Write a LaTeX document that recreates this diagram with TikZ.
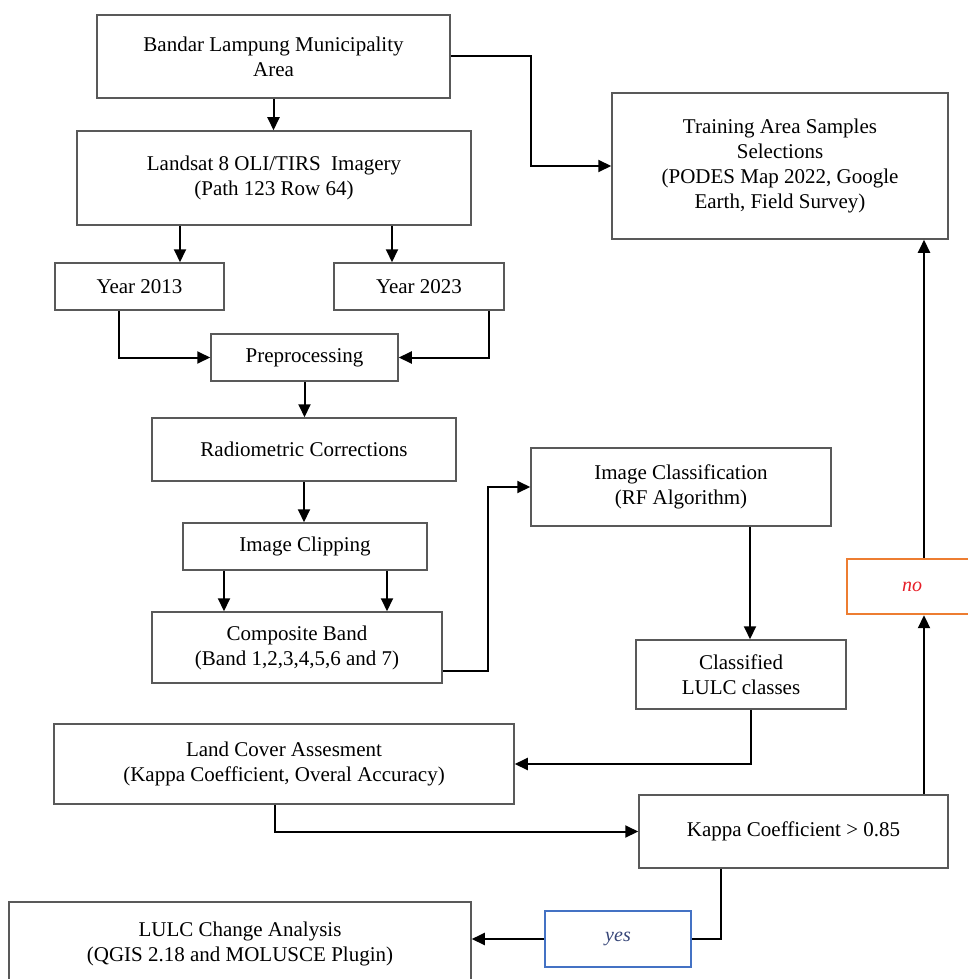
\documentclass[tikz,border=0pt]{standalone}
\usepackage{fontspec}
\setmainfont{Liberation Serif}
\usepackage{xcolor}
\usetikzlibrary{arrows.meta}
\definecolor{noorange}{RGB}{237,125,49}
\definecolor{nored}{RGB}{230,30,40}
\definecolor{yesblue}{RGB}{68,114,196}
\definecolor{yestext}{RGB}{55,70,120}

\begin{document}
\begin{tikzpicture}
	[x=1pt, y=-1pt,
	pbox/.style 2 args={draw=black!65, line width=1.5pt, align=center, inner sep=0pt,
		minimum width=#1, minimum height=#2, font=\fontsize{21}{25}\selectfont},
	nobox/.style={draw=noorange, line width=2.4pt, inner sep=0pt, minimum width=130pt,
		minimum height=55pt, text=nored, font=\fontsize{20}{24}\selectfont\itshape},
	yesbox/.style={draw=yesblue, line width=2.4pt, inner sep=0pt, minimum width=146pt,
		minimum height=56pt, text=yestext, font=\fontsize{20}{24}\selectfont\itshape},
	arr/.style={line width=2pt, -{Triangle[length=13pt,width=12pt]}},
	line/.style={line width=2pt}]

	\useasboundingbox (0,0) rectangle (968,979);
	\clip (0,0) rectangle (968,979);

	\node[pbox={353pt}{83pt}] (bandar) at (273.5,56.5) {Bandar Lampung Municipality\\Area};
	\node[pbox={394pt}{94pt}] (landsat) at (274,178) {Landsat 8 OLI/TIRS\ \ Imagery\\(Path 123 Row 64)};
	\node[pbox={169pt}{47pt}] (y2013) at (139.5,286.5) {Year 2013};
	\node[pbox={170pt}{47pt}] (y2023) at (419,286.5) {Year 2023};
	\node[pbox={187pt}{47pt}] (prep) at (304.5,357.5) {Preprocessing};
	\node[pbox={304pt}{63pt}] (radio) at (304,449.5) {Radiometric Corrections};
	\node[pbox={244pt}{47pt}] (clip) at (305,546.5) {Image Clipping};
	\node[pbox={290pt}{71pt}] (comp) at (297,647.5) {Composite Band\\(Band 1,2,3,4,5,6 and 7)};
	\node[pbox={336pt}{146pt}] (train) at (780,166)
		{Training Area Samples\\Selections\\(PODES Map 2022, Google\\Earth, Field Survey)};
	\node[pbox={300pt}{78pt}] (classif) at (681,487) {Image Classification\\(RF Algorithm)};
	\node[pbox={210pt}{69pt}] (lulc) at (741,674.5) {Classified\\LULC classes};
	\node[nobox] (no) at (912,586.5) {no};
	\node[pbox={460pt}{80pt}] (landcover) at (284,764)
		{Land Cover Assesment\\(Kappa Coefficient, Overal Accuracy)};
	\node[pbox={309pt}{73pt}] (kappa) at (793.5,831.5) {Kappa Coefficient > 0.85};
	\node[pbox={462pt}{84pt}] (change) at (240,944)
		{LULC Change Analysis\\(QGIS 2.18 and MOLUSCE Plugin)};
	\node[yesbox] (yes) at (618,939) {yes};

	\draw[arr] (bandar.south) -- (bandar.south |- landsat.north);
	\draw[arr] (bandar.east) -- ++(80,0) |- (train.west);
	\draw[arr] ([xshift=-94pt]landsat.south) -- ([xshift=-94pt]landsat.south |- y2013.north);
	\draw[arr] ([xshift=118pt]landsat.south) -- ([xshift=118pt]landsat.south |- y2023.north);
	\draw[arr] ([xshift=-20.5pt]y2013.south) |- (prep.west);
	\draw[arr] ([xshift=70pt]y2023.south) |- (prep.east);
	\draw[arr] (prep.south) -- (prep.south |- radio.north);
	\draw[arr] (radio.south) -- (radio.south |- clip.north);
	\draw[arr] ([xshift=-81pt]clip.south) -- ([xshift=-81pt]clip.south |- comp.north);
	\draw[arr] ([xshift=82pt]clip.south) -- ([xshift=82pt]clip.south |- comp.north);
	\draw[arr] ([yshift=-23pt]comp.east) -- ++(45,0) |- (classif.west);
	\draw[arr] ([xshift=69pt]classif.south) -- ([xshift=69pt]classif.south |- lulc.north);
	\draw[arr] ([xshift=10pt]lulc.south) |- (landcover.east);
	\draw[arr] ([xshift=-9pt]landcover.south) |- (kappa.west);
	\draw[line] ([xshift=-72.5pt]kappa.south) |- (yes.east);
	\draw[arr] (yes.west) -- (yes.west -| change.east);
	\draw[arr] ([xshift=130.5pt]kappa.north) -- ([xshift=130.5pt]kappa.north |- no.south);
	\draw[arr] ([xshift=12pt]no.north) -- ([xshift=12pt]no.north |- train.south);

\end{tikzpicture}
\end{document}
